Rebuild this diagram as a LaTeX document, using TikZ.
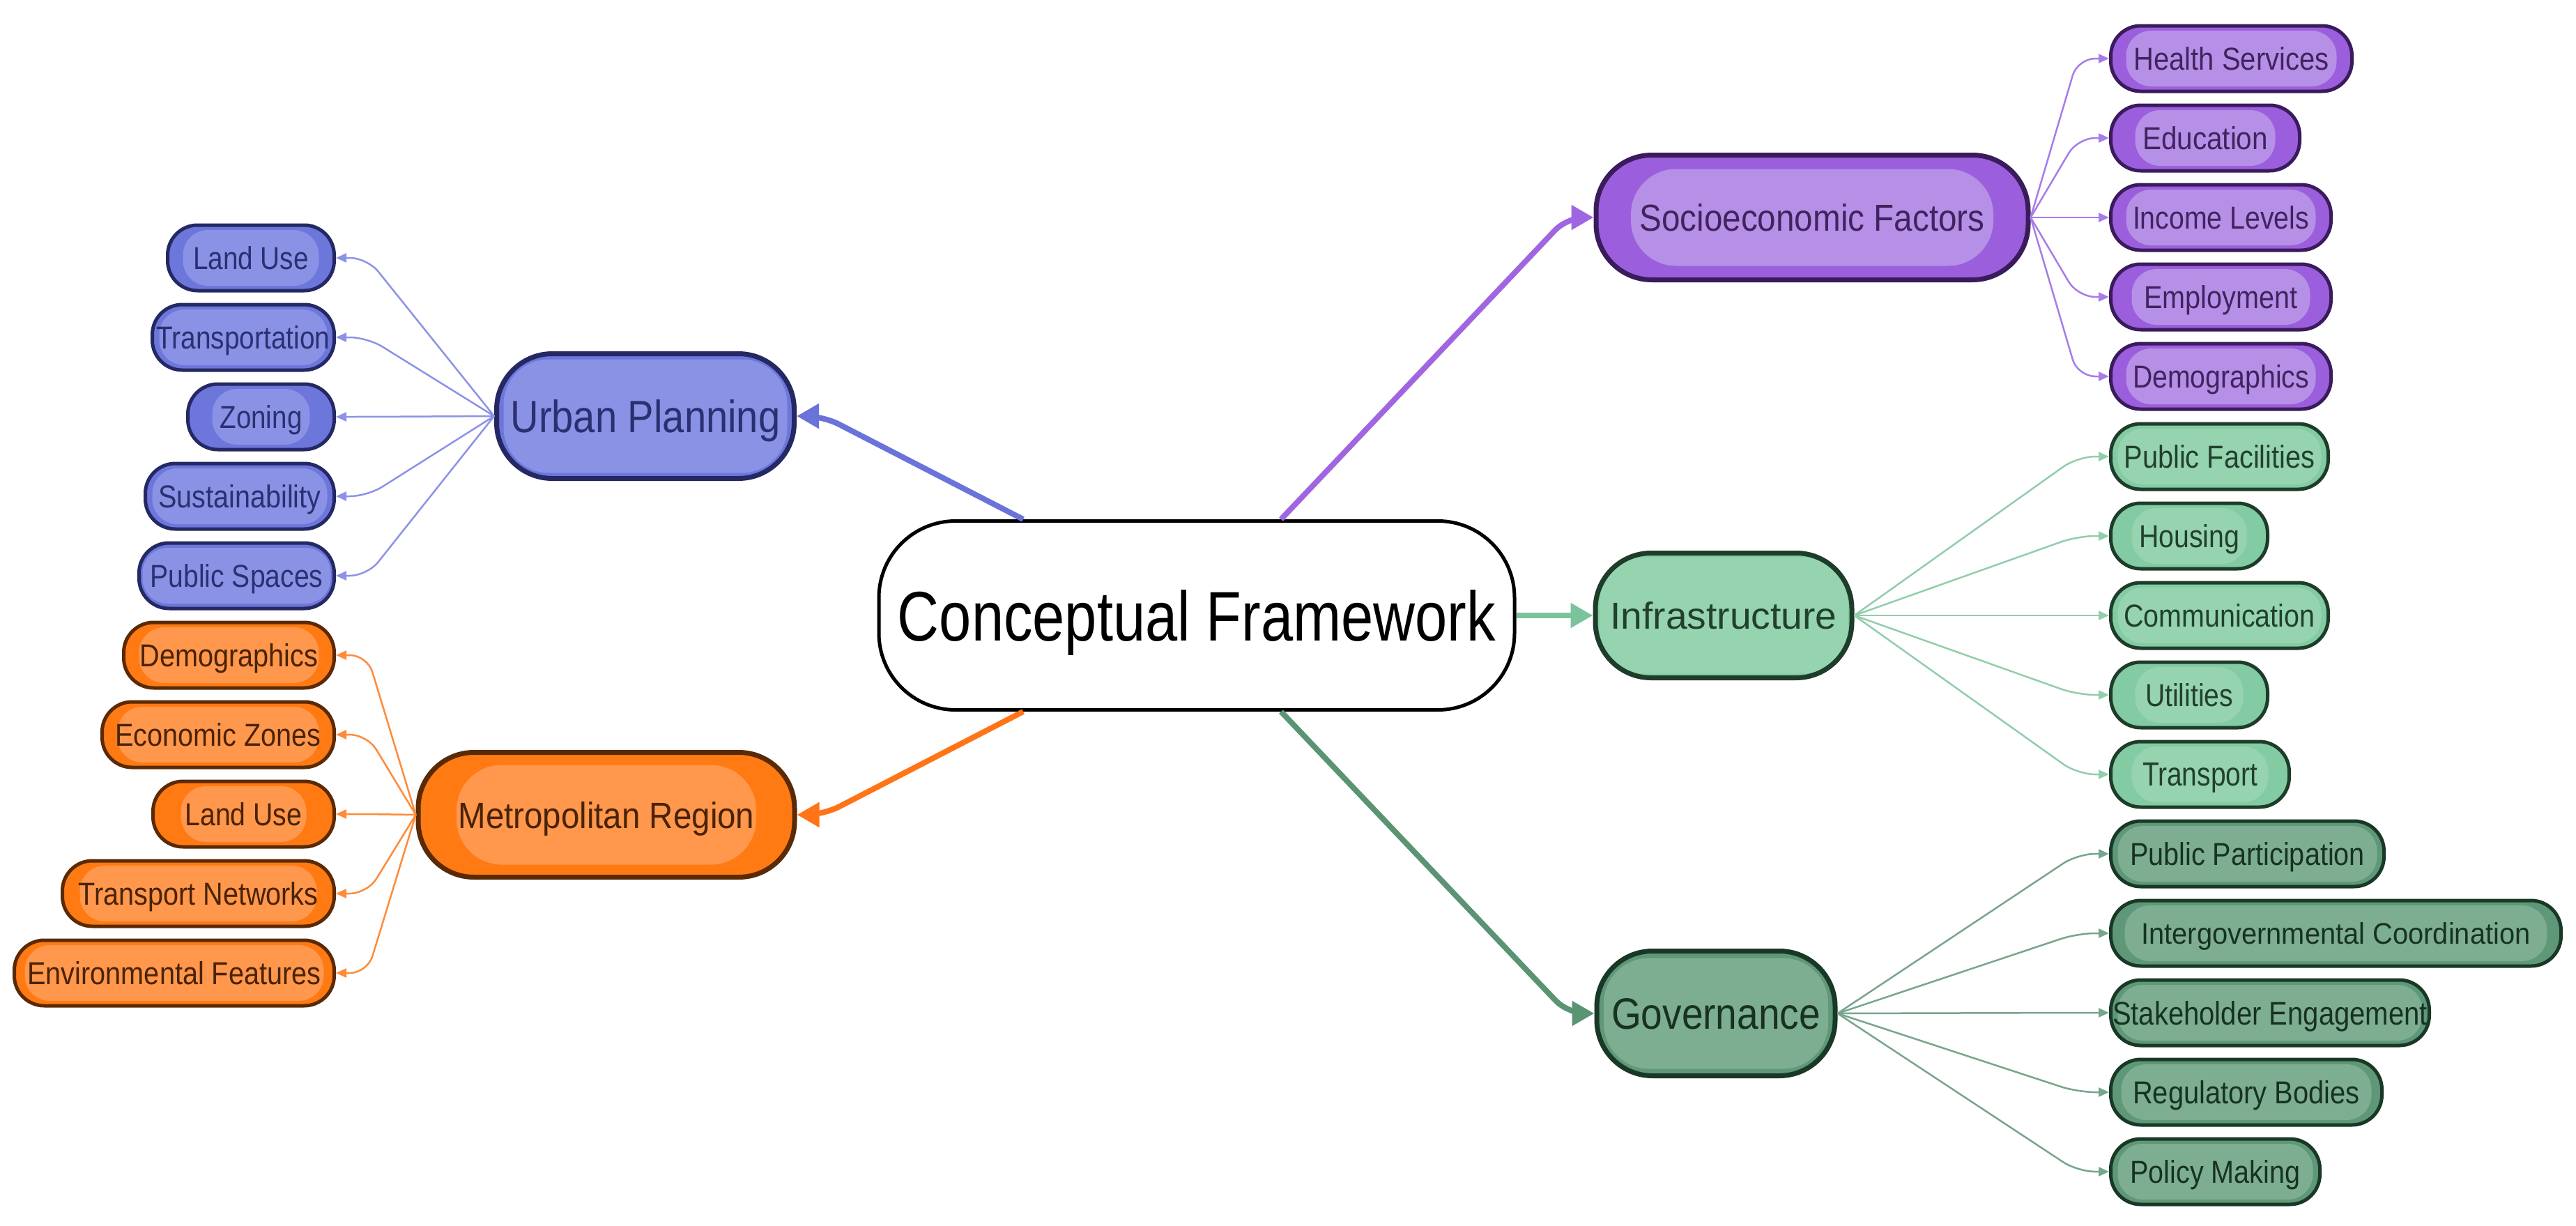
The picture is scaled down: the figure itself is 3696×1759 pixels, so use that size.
\documentclass[tikz,border=0pt]{standalone}
\usepackage{fontspec}
\setmainfont{Liberation Sans}
\usepackage{graphicx}
\usetikzlibrary{arrows.meta,calc}

\definecolor{blueO}{HTML}{6D76DB}\definecolor{blueI}{HTML}{8A92E5}
\definecolor{blueD}{HTML}{242963}\definecolor{blueT}{HTML}{2A3072}
\definecolor{blueM}{HTML}{6A73DA}\definecolor{blueL}{HTML}{8C93E6}
\definecolor{purO}{HTML}{9B5EDC}\definecolor{purI}{HTML}{B690E7}
\definecolor{purD}{HTML}{3A1B5C}\definecolor{purT}{HTML}{43235F}
\definecolor{purM}{HTML}{A066E2}\definecolor{purL}{HTML}{A77DE8}
\definecolor{orO}{HTML}{FF7A12}\definecolor{orI}{HTML}{FF974C}
\definecolor{orD}{HTML}{5A2A05}\definecolor{orT}{HTML}{4A2306}
\definecolor{orM}{HTML}{FF7417}\definecolor{orL}{HTML}{FF8B3A}
\definecolor{infO}{HTML}{83CBA2}\definecolor{infI}{HTML}{95D4AF}
\definecolor{infD}{HTML}{1E3C2A}\definecolor{infT}{HTML}{22402E}
\definecolor{infM}{HTML}{7BC49B}\definecolor{infL}{HTML}{93CDAC}
\definecolor{govO}{HTML}{5E9878}\definecolor{govI}{HTML}{7EAE92}
\definecolor{govD}{HTML}{193826}\definecolor{govT}{HTML}{173222}
\definecolor{govM}{HTML}{5A9472}\definecolor{govL}{HTML}{76A68B}

\newcommand{\fitt}[3]{\resizebox{#1}{#2}{#3}}

\tikzset{
  insx/.store in=\insx, insy/.store in=\insy, inr/.store in=\inr, innercol/.store in=\innercol,
  insx=2mm, insy=0.7mm, inr=3.6mm, innercol=white,
  box/.style={rectangle, inner sep=0pt, text depth=0pt,
    path picture={\fill[\innercol, rounded corners=\inr]
      ([xshift=\insx, yshift=-\insy]path picture bounding box.north west) rectangle
      ([xshift=-\insx, yshift=\insy]path picture bounding box.south east);}},
  leaf/.style={box, minimum height=9.4mm, rounded corners=4.3mm, line width=0.5mm,
    insx=2.2mm, insy=0.7mm, inr=3.6mm},
  mid/.style={box, minimum height=17.9mm, rounded corners=8mm, line width=0.7mm, inr=6.5mm},
  cnode/.style={rectangle, draw=black, fill=white, line width=0.5mm, rounded corners=11mm,
    inner sep=0pt, text depth=0pt, text=black},
  fblue/.style={fill=blueO, draw=blueD, text=blueT, innercol=blueI},
  fpur/.style={fill=purO, draw=purD, text=purT, innercol=purI},
  forg/.style={fill=orO, draw=orD, text=orT, innercol=orI},
  finf/.style={fill=infO, draw=infD, text=infT, innercol=infI},
  fgov/.style={fill=govO, draw=govD, text=govT, innercol=govI},
  conn/.style={line width=0.8mm, rounded corners=2.5mm, -{Triangle[length=3.2mm, width=3.4mm]}},
  sub/.style={line width=0.25mm, rounded corners=2.5mm, -{Triangle[length=1.5mm, width=1.3mm]}}
}

\begin{document}
\begin{tikzpicture}[x=0.1mm, y=-0.1mm]
\useasboundingbox (0,0) rectangle (3696,1759);
\fill[white] (0,0) rectangle (3696,1759);

% central
\node[cnode, minimum width=91.2mm, minimum height=27.1mm] (cf) at (1717,883)
  {\fitt{85.8mm}{7.3mm}{Conceptual Framework}};

% mid nodes
\node[mid, fblue, minimum width=42.7mm, insx=1mm, insy=0.8mm] (up) at (926,597)
  {\fitt{38.7mm}{4.7mm}{Urban Planning}};
\node[mid, forg, minimum width=54mm, insx=5.5mm, insy=1.8mm] (mr) at (870,1169)
  {\fitt{42.5mm}{3.8mm}{Metropolitan Region}};
\node[mid, fpur, minimum width=62mm, insx=5mm, insy=2mm] (sf) at (2600,312)
  {\fitt{49.5mm}{3.9mm}{Socioeconomic Factors}};
\node[mid, finf, minimum width=36.8mm, insx=0.6mm, insy=0.6mm] (inf) at (2473,883)
  {\fitt{32.5mm}{3.9mm}{Infrastructure}};
\node[mid, fgov, minimum width=34.2mm, insx=1mm, insy=1mm] (gv) at (2462,1454)
  {\fitt{30mm}{4.4mm}{Governance}};

% left leaves (blue)
\node[leaf, fblue, minimum width=23.9mm, anchor=east] (lu1) at (482,370) {\fitt{16.6mm}{3.3mm}{Land Use}};
\node[leaf, fblue, minimum width=26.1mm, anchor=east, insx=1mm] (tr) at (482,484) {\fitt{24.9mm}{3.3mm}{Transportation}};
\node[leaf, fblue, minimum width=21mm, anchor=east, insx=3.5mm] (zo) at (482,598) {\fitt{11.8mm}{3.3mm}{Zoning}};
\node[leaf, fblue, minimum width=27.1mm, anchor=east, insx=1mm] (su) at (482,712) {\fitt{23.3mm}{3.3mm}{Sustainability}};
\node[leaf, fblue, minimum width=28mm, anchor=east, insx=0.5mm] (ps) at (482,826) {\fitt{24.8mm}{3.3mm}{Public Spaces}};
% left leaves (orange)
\node[leaf, forg, minimum width=30.2mm, anchor=east] (dm1) at (482,940) {\fitt{25.6mm}{3.3mm}{Demographics}};
\node[leaf, forg, minimum width=33.3mm, anchor=east] (ez) at (482,1054) {\fitt{29.5mm}{3.3mm}{Economic Zones}};
\node[leaf, forg, minimum width=26mm, anchor=east, insx=4mm] (lu2) at (482,1168) {\fitt{16.8mm}{3.3mm}{Land Use}};
\node[leaf, forg, minimum width=39mm, anchor=east, insx=2.5mm] (tn) at (482,1282) {\fitt{34.4mm}{3.3mm}{Transport Networks}};
\node[leaf, forg, minimum width=45.9mm, anchor=east, insx=1.5mm] (ef) at (482,1396) {\fitt{42.1mm}{3.3mm}{Environmental Features}};

% right leaves (purple)
\node[leaf, fpur, minimum width=34.6mm, anchor=west] (hs) at (3026,84) {\fitt{28mm}{3.3mm}{Health Services}};
\node[leaf, fpur, minimum width=27.1mm, anchor=west, insx=3.5mm] (ed) at (3026,198) {\fitt{18mm}{3.3mm}{Education}};
\node[leaf, fpur, minimum width=31.6mm, anchor=west] (il) at (3026,312) {\fitt{25.3mm}{3.3mm}{Income Levels}};
\node[leaf, fpur, minimum width=31.6mm, anchor=west, insx=3mm] (em) at (3026,426) {\fitt{22mm}{3.3mm}{Employment}};
\node[leaf, fpur, minimum width=31.6mm, anchor=west] (dm2) at (3026,540) {\fitt{25.3mm}{3.3mm}{Demographics}};
% right leaves (infrastructure)
\node[leaf, finf, minimum width=31.2mm, anchor=west, insx=1mm] (pf) at (3026,655) {\fitt{27.4mm}{3.3mm}{Public Facilities}};
\node[leaf, finf, minimum width=22.5mm, anchor=west, insx=3mm] (ho) at (3026,769) {\fitt{14.4mm}{3.3mm}{Housing}};
\node[leaf, finf, minimum width=31.2mm, anchor=west, insx=1mm] (co) at (3026,883) {\fitt{27.4mm}{3.3mm}{Communication}};
\node[leaf, finf, minimum width=22.5mm, anchor=west, insx=3.5mm] (ut) at (3026,997) {\fitt{12.6mm}{3.3mm}{Utilities}};
\node[leaf, finf, minimum width=25.6mm, anchor=west, insx=3mm] (tp) at (3026,1111) {\fitt{16.5mm}{3.3mm}{Transport}};
% right leaves (governance)
\node[leaf, fgov, minimum width=39.2mm, anchor=west, insx=1mm] (pp) at (3026,1225) {\fitt{33.7mm}{3.3mm}{Public Participation}};
\node[leaf, fgov, minimum width=64.6mm, anchor=west, insx=2mm] (ic) at (3026,1339) {\fitt{55.8mm}{3.1mm}{Intergovernmental Coordination}};
\node[leaf, fgov, minimum width=45.7mm, anchor=west, insx=1mm] (se) at (3026,1453) {\fitt{45.2mm}{3.4mm}{Stakeholder Engagement}};
\node[leaf, fgov, minimum width=38.9mm, anchor=west, insx=1.5mm] (rb) at (3026,1567) {\fitt{32.6mm}{3.3mm}{Regulatory Bodies}};
\node[leaf, fgov, minimum width=30mm, anchor=west, insx=1mm] (pm) at (3026,1681) {\fitt{24.4mm}{3.3mm}{Policy Making}};

% connector start points on the central node
\coordinate (cUL) at ([xshift=-24.9mm]cf.north);
\coordinate (cUR) at ([xshift=12.1mm]cf.north);
\coordinate (cLL) at ([xshift=-24.9mm]cf.south);
\coordinate (cLR) at ([xshift=12.1mm]cf.south);

% main connectors
\draw[conn, blueM] (cUL) -- ([xshift=3.8mm]up.east) -- (up.east);
\draw[conn, orM] (cLL) -- ([xshift=3.8mm]mr.east) -- (mr.east);
\draw[conn, purM] (cUR) -- ([xshift=-3.8mm]sf.west) -- (sf.west);
\draw[conn, infM] (cf.east) -- (inf.west);
\draw[conn, govM] (cLR) -- ([xshift=-3.8mm]gv.west) -- (gv.west);

% sub connectors
\foreach \n in {lu1,tr,zo,su,ps}
  \draw[sub, blueL] (up.west) -- ([xshift=4.5mm]\n.east) -- (\n.east);
\foreach \n in {dm1,ez,lu2,tn,ef}
  \draw[sub, orL] (mr.west) -- ([xshift=4.5mm]\n.east) -- (\n.east);
\foreach \n in {hs,ed,il,em,dm2}
  \draw[sub, purL] (sf.east) -- ([xshift=-4.5mm]\n.west) -- (\n.west);
\foreach \n in {pf,ho,co,ut,tp}
  \draw[sub, infL] (inf.east) -- ([xshift=-4.5mm]\n.west) -- (\n.west);
\foreach \n in {pp,ic,se,rb,pm}
  \draw[sub, govL] (gv.east) -- ([xshift=-4.5mm]\n.west) -- (\n.west);
\end{tikzpicture}
\end{document}
